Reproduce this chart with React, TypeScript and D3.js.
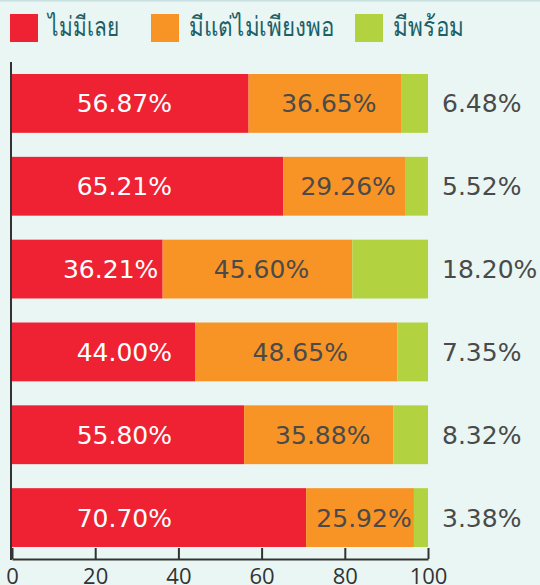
import { useEffect, useRef } from 'react';
import * as d3 from 'd3';

const rows = ['r1', 'r2', 'r3', 'r4', 'r5', 'r6'];
const seriesNames = ['ไม่มีเลย', 'มีแต่ไม่เพียงพอ', 'มีพร้อม'];
const none = [56.87, 65.21, 36.21, 44.0, 55.8, 70.7];
const notEnough = [36.65, 29.26, 45.6, 48.65, 35.88, 25.92];
const ready = [6.48, 5.52, 18.2, 7.35, 8.32, 3.38];
const ticks = [0, 20, 40, 60, 80, 100];
const colors = ['#ee2233', '#f79425', '#b2d33f'];

const App = () => {
  const ref = useRef(null);

  useEffect(() => {
    const width = 540;
    const height = 585;
    const svg = d3.select(ref.current).attr('width', width).attr('height', height);
    svg.selectAll('*').remove();

    svg.append('rect').attr('width', width).attr('height', height).attr('fill', '#e9f6f3');
    svg.append('line').attr('x1', 0).attr('x2', width).attr('y1', 0.5).attr('y2', 0.5)
      .attr('stroke', '#c9e0e0').attr('stroke-width', 2);

    const x = d3.scaleLinear().domain([0, 100]).range([12, 428]);
    const y = d3.scaleBand().domain(rows).range([62, 559]).paddingInner(0.29).paddingOuter(0.145);

    const table = rows.map((r, i) => ({ row: r, s0: none[i], s1: notEnough[i], s2: ready[i] }));
    const stack = d3.stack().keys(['s0', 's1', 's2'])(table);

    // legend
    const legendX = [10, 151, 355];
    const legendW = [71, 145, 71];
    const lg = svg.selectAll('.legend').data(seriesNames).join('g')
      .attr('class', 'legend')
      .attr('transform', (d, i) => `translate(${legendX[i]},14)`);
    lg.append('rect').attr('width', 28).attr('height', 28).attr('fill', (d, i) => colors[i]);
    lg.append('text').text((d) => d).attr('x', 38).attr('y', 22)
      .attr('textLength', (d, i) => legendW[i]).attr('lengthAdjust', 'spacingAndGlyphs')
      .attr('font-family', '"Noto Sans", sans-serif').attr('font-size', 27).attr('font-weight', 500)
      .attr('fill', '#1c5f68');

    // bars
    stack.forEach((layer, k) => {
      svg.append('g').selectAll('rect').data(layer).join('rect')
        .attr('x', (d) => x(d[0]))
        .attr('y', (d) => y(d.data.row))
        .attr('width', (d) => x(d[1]) - x(d[0]))
        .attr('height', y.bandwidth())
        .attr('fill', colors[k]);
    });

    const labelFont = '"DejaVu Sans", sans-serif';
    const cy = (d) => y(d.data.row) + y.bandwidth() / 2;

    // red labels
    svg.append('g').selectAll('text').data(stack[0]).join('text')
      .text((d) => d.data.s0.toFixed(2) + '%')
      .attr('x', (d) => Math.min(x(27), x(d[1]) - 52))
      .attr('y', cy).attr('dy', '0.36em')
      .attr('text-anchor', 'middle').attr('font-family', labelFont).attr('font-size', 25)
      .attr('fill', '#ffffff');

    // orange labels
    svg.append('g').selectAll('text').data(stack[1]).join('text')
      .text((d) => d.data.s1.toFixed(2) + '%')
      .attr('x', (d) => (x(d[0]) + x(d[1])) / 2 + 4)
      .attr('y', cy).attr('dy', '0.36em')
      .attr('text-anchor', 'middle').attr('font-family', labelFont).attr('font-size', 25)
      .attr('fill', '#4a4a4a');

    // green labels outside
    svg.append('g').selectAll('text').data(stack[2]).join('text')
      .text((d) => d.data.s2.toFixed(2) + '%')
      .attr('x', 442)
      .attr('y', cy).attr('dy', '0.36em')
      .attr('text-anchor', 'start').attr('font-family', labelFont).attr('font-size', 25)
      .attr('fill', '#4a4a4a');

    // axes
    const xAxis = svg.append('g').attr('transform', 'translate(0,559)')
      .call(d3.axisBottom(x).tickValues(ticks).tickSize(-11).tickSizeOuter(0).tickPadding(12));
    xAxis.select('.domain').attr('stroke', '#333').attr('stroke-width', 2);
    xAxis.selectAll('.tick line').attr('stroke', '#333').attr('stroke-width', 2);
    xAxis.selectAll('.tick text').attr('font-family', '"Open Sans", sans-serif')
      .attr('font-size', 22).attr('fill', '#333').attr('dy', '0.71em').attr('y', 9);

    svg.append('line').attr('x1', 11).attr('x2', 11).attr('y1', 62).attr('y2', 560)
      .attr('stroke', '#333').attr('stroke-width', 2);
  }, []);

  return (
    <div style={{ position: 'fixed', left: 0, top: 0 }}>
      <svg ref={ref} style={{ display: 'block' }}></svg>
    </div>
  );
};

export default App;
